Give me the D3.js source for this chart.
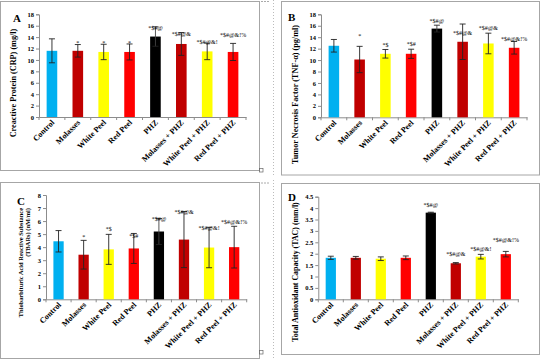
<!DOCTYPE html>
<html><head><meta charset="utf-8">
<script src="https://cdn.jsdelivr.net/npm/d3@7"></script>
<style>html,body{margin:0;padding:0;background:#fff;}svg{display:block;}</style>
</head><body>
<script>
// ---------- DATA ----------
const categories = ["Control","Molasses","White Peel","Red Peel","PHZ","Molasses + PHZ","White Peel + PHZ","Red Peel + PHZ"];
const barColors = ["#00B0F0","#C00000","#FFFF00","#FF0000","#000000","#C00000","#FFFF00","#FF0000"];

// A: C-reactive protein (mg/l)
const crpMean = [11.6, 11.6, 11.4, 11.4, 14.1, 12.8, 11.5, 11.4];
const crpSD   = [2.1, 1.1, 1.35, 1.4, 1.7, 2.0, 1.45, 1.5];
const crpSig  = ["", "*", "*", "*", "*$#@", "*$#@&", "*$#@&!", "*$#@&!%"];
const crpSigAt = [0, 12.7, 12.7, 12.7, 15.2, 14.2, 12.8, 14.1];
const crpTicks = [0,2,4,6,8,10,12,14,16,18];

// B: TNF-alpha (pg/ml)
const tnfMean = [12.5, 10.1, 11.1, 11.1, 15.5, 13.2, 12.9, 12.15];
const tnfSD   = [1.1, 2.3, 0.75, 0.8, 0.6, 3.1, 1.8, 1.1];
const tnfSig  = ["", "*", "*$", "*$#", "*$#@", "*$#@&", "*$#@&", "*$#@&!%"];
const tnfSigAt = [0, 13.9, 12.3, 12.4, 16.4, 14.4, 15.3, 13.4];
const tnfTicks = [0,2,4,6,8,10,12,14,16,18];

// C: TBARs (nM/ml)
const tbarsMean = [4.45, 3.42, 3.83, 3.9, 5.2, 4.58, 3.97, 4.0];
const tbarsSD   = [0.82, 1.1, 1.15, 1.15, 1.0, 2.15, 1.55, 1.6];
const tbarsSig  = ["", "*", "*$", "*$#", "*$#@", "*$#@&", "*$#@&!", "*$#@&!%"];
const tbarsSigAt = [0, 4.6, 5.24, 4.74, 6.04, 6.58, 5.28, 5.81];
const tbarsTicks = [0,1,2,3,4,5,6,7,8];

// D: TAC (mm/l)
const tacMean = [1.82, 1.82, 1.78, 1.82, 3.8, 1.58, 1.87, 1.98];
const tacSD   = [0.07, 0.06, 0.08, 0.08, 0.02, 0.03, 0.1, 0.12];
const tacSig  = ["", "", "", "", "*$#@", "*$#@&", "*$#@&!", "*$#@&!%"];
const tacSigAt = [0, 0, 0, 0, 4.05, 1.88, 2.14, 2.51];
const tacTicks = [0,0.5,1,1.5,2,2.5,3,3.5,4,4.5];

// ---------- DRAW ----------
const W = 541, H = 359;
const FONT = "'Liberation Serif','Times New Roman',serif";
const svg = d3.select("body").append("svg").attr("width", W).attr("height", H);

// frames and decorations
const frameCol = "#a6a6a6";
[[0.5,1.5,259,169],[281.5,1.5,258,173.5],[0.5,182.5,259,176],[281.5,183.5,258,171]].forEach(f=>{
  svg.append("rect").attr("x",f[0]).attr("y",f[1]).attr("width",f[2]).attr("height",f[3])
    .attr("fill","none").attr("stroke",frameCol).attr("stroke-width",1);
});
[[1.5],[183]].forEach(d=>{
  svg.append("line").attr("x1",261).attr("x2",270).attr("y1",d[0]).attr("y2",d[0])
    .attr("stroke","#aaa").attr("stroke-dasharray","2,1");
});
svg.append("line").attr("x1",273.5).attr("x2",273.5).attr("y1",0).attr("y2",177)
  .attr("stroke","#bbb").attr("stroke-dasharray","1,2");
svg.append("line").attr("x1",273.5).attr("x2",273.5).attr("y1",180).attr("y2",359)
  .attr("stroke","#bbb").attr("stroke-dasharray","1,2");
[[259.5,168.5],[259.5,350.5]].forEach(p=>{
  svg.append("rect").attr("x",p[0]).attr("y",p[1]).attr("width",3.5).attr("height",3.5)
    .attr("fill","none").attr("stroke","#666").attr("stroke-width",0.7);
});

function panel(o){
  const g = svg.append("g");
  const x = d3.scaleBand().domain(categories).range([o.ax, o.axEnd]).paddingInner(0.59).paddingOuter(0.295);
  const y = d3.scaleLinear().domain([0, o.ticks[o.ticks.length-1]]).range([o.y0, o.yTop]);

  // y axis
  const ya = g.append("g").attr("transform",`translate(${o.ax},0)`)
    .call(d3.axisLeft(y).tickValues(o.ticks).tickSize(3).tickPadding(2).tickFormat(d3.format("~g")));
  ya.select(".domain").attr("stroke","#8c8c8c");
  ya.selectAll(".tick line").attr("stroke","#8c8c8c");
  ya.selectAll("text").attr("font-family",FONT).attr("font-weight","bold").attr("font-size",6.5).attr("fill","#000");

  // x axis
  const xa = g.append("g").attr("transform",`translate(0,${o.y0})`)
    .call(d3.axisBottom(x).tickSize(0).tickFormat(""));
  xa.select(".domain").attr("stroke","#8c8c8c");
  const step = x.step();
  g.selectAll(".bt").data(d3.range(categories.length+1)).join("line")
    .attr("x1",i=>o.ax+i*step).attr("x2",i=>o.ax+i*step)
    .attr("y1",o.y0).attr("y2",o.y0+3).attr("stroke","#8c8c8c");

  // x labels
  g.selectAll(".xl").data(categories).join("text")
    .attr("transform",d=>`translate(${x(d)+x.bandwidth()/2+3},${o.y0+6}) rotate(-45)`)
    .attr("text-anchor","end").attr("font-family",FONT).attr("font-weight","bold")
    .attr("font-size",8).text(d=>d);

  // bars
  g.selectAll(".bar").data(o.mean).join("rect")
    .attr("x",(d,i)=>x(categories[i])).attr("width",x.bandwidth())
    .attr("y",d=>y(d)).attr("height",d=>o.y0-y(d))
    .attr("fill",(d,i)=>barColors[i]);

  // error bars
  const eb = g.selectAll(".eb").data(o.mean).join("g");
  eb.append("line")
    .attr("x1",(d,i)=>x(categories[i])+x.bandwidth()/2).attr("x2",(d,i)=>x(categories[i])+x.bandwidth()/2)
    .attr("y1",(d,i)=>y(d-o.sd[i])).attr("y2",(d,i)=>y(d+o.sd[i]))
    .attr("stroke",(d,i)=>i===4?"#444":"#222").attr("stroke-width",0.9);
  [1,-1].forEach(s=>{
    eb.append("line")
      .attr("x1",(d,i)=>x(categories[i])+x.bandwidth()/2-3).attr("x2",(d,i)=>x(categories[i])+x.bandwidth()/2+3)
      .attr("y1",(d,i)=>y(d+s*o.sd[i])).attr("y2",(d,i)=>y(d+s*o.sd[i]))
      .attr("stroke","#222").attr("stroke-width",0.9);
  });

  // significance labels
  g.selectAll(".sig").data(o.sig).join("text")
    .attr("x",(d,i)=>x(categories[i])+x.bandwidth()/2)
    .attr("y",(d,i)=>y(o.sigAt[i]))
    .attr("text-anchor","middle").attr("font-family",FONT).attr("font-size",6)
    .text(d=>d);

  // panel letter
  g.append("text").attr("x",o.letter[0]).attr("y",o.letter[1]).attr("font-family",FONT)
    .attr("font-weight","bold").attr("font-size",11).text(o.letter[2]);

  // y title
  o.title.forEach(t=>{
    g.append("text").attr("transform",`translate(${t.x},${t.y}) rotate(-90)`)
      .attr("text-anchor",t.anchor).attr("font-family",FONT).attr("font-weight","bold")
      .attr("font-size",t.size).text(t.text);
  });
}

panel({ax:39, axEnd:246, y0:117, yTop:14.3, ticks:crpTicks, mean:crpMean, sd:crpSD, sig:crpSig, sigAt:crpSigAt,
  letter:[13,22,"A"], title:[{x:16,y:83,anchor:"middle",size:8.2,text:"Creactive Protein (CRP) (mg/l)"}]});
panel({ax:321, axEnd:527, y0:117.3, yTop:14.3, ticks:tnfTicks, mean:tnfMean, sd:tnfSD, sig:tnfSig, sigAt:tnfSigAt,
  letter:[288,21,"B"], title:[{x:298,y:94.5,anchor:"middle",size:8.2,text:"Tumor Necrosis Factor (TNF-α) (pg/ml)"}]});
panel({ax:46, axEnd:246.7, y0:299.3, yTop:195, ticks:tbarsTicks, mean:tbarsMean, sd:tbarsSD, sig:tbarsSig, sigAt:tbarsSigAt,
  letter:[17,205,"C"], title:[{x:22.5,y:208,anchor:"end",size:6.4,text:"Thiobarbituric Acid Reactive Substance"},
                               {x:29.5,y:208,anchor:"end",size:6.4,text:"(TBARs) (nM/ml)"}]});
panel({ax:318.3, axEnd:518.3, y0:299.3, yTop:196.7, ticks:tacTicks, mean:tacMean, sd:tacSD, sig:tacSig, sigAt:tacSigAt,
  letter:[288,201,"D"], title:[{x:298,y:272,anchor:"middle",size:7.9,text:"Total Antioxidant Capacity (TAC) (mm/l)"}]});
</script>
</body></html>
